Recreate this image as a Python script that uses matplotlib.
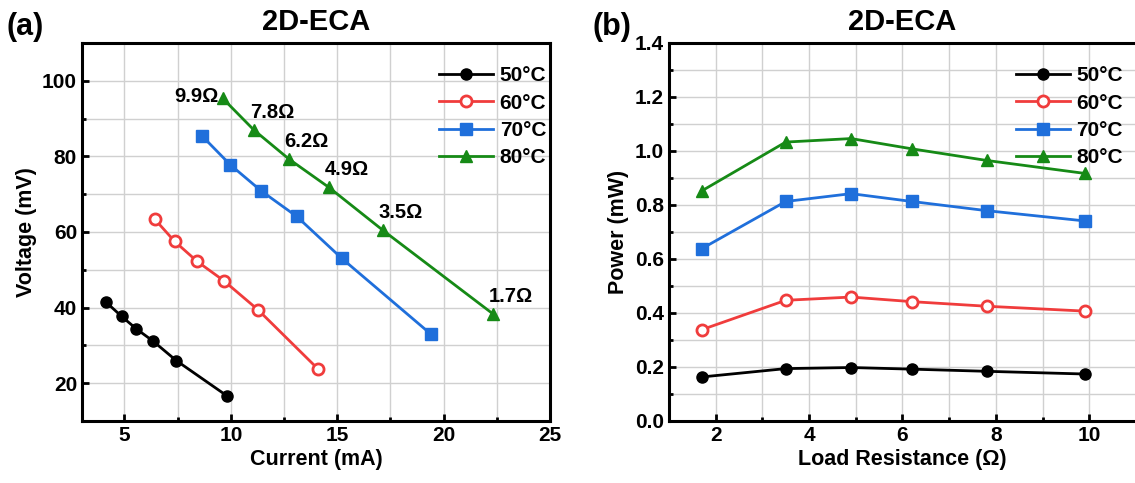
import numpy as np
import matplotlib
matplotlib.use("Agg")
import matplotlib.pyplot as plt
from matplotlib.ticker import MultipleLocator

plt.rcParams["font.family"] = ["Liberation Sans", "DejaVu Sans"]
plt.rcParams["font.weight"] = "bold"

temps = ["50°C", "60°C", "70°C", "80°C"]
colors = ["black", "#f03c3c", "#1f6fdb", "#168a16"]
markers = ["o", "o", "s", "^"]
filled = [True, False, True, True]

# panel (a): current (mA) and voltage (mV), from 9.9 ohm down to 1.7 ohm
current = [
    [4.14, 4.86, 5.55, 6.35, 7.43, 9.83],
    [6.42, 7.36, 8.42, 9.67, 11.28, 14.09],
    [8.63, 9.97, 11.42, 13.10, 15.22, 19.42],
    [9.61, 11.08, 12.73, 14.61, 17.16, 22.33],
]
voltage = [
    [41.4, 37.7, 34.4, 31.1, 26.0, 16.6],
    [63.4, 57.5, 52.2, 47.1, 39.4, 23.8],
    [85.5, 77.8, 70.9, 64.1, 53.0, 32.9],
    [95.4, 87.0, 79.3, 71.8, 60.4, 38.3],
]
res_labels = ["9.9Ω", "7.8Ω", "6.2Ω", "4.9Ω", "3.5Ω", "1.7Ω"]

# panel (b): load resistance and power
resistance = [1.7, 3.5, 4.9, 6.2, 7.8, 9.9]
power = [
    [0.163, 0.194, 0.198, 0.192, 0.184, 0.174],
    [0.338, 0.447, 0.459, 0.442, 0.425, 0.407],
    [0.638, 0.813, 0.842, 0.813, 0.779, 0.741],
    [0.852, 1.033, 1.046, 1.008, 0.965, 0.917],
]

fig = plt.figure(figsize=(11.35, 4.83), dpi=100)
ax1 = fig.add_axes([0.0722, 0.1284, 0.4123, 0.7826])
ax2 = fig.add_axes([0.5894, 0.1284, 0.4115, 0.7826])


def draw(ax, xs, ys, anchor):
    for x, y, c, m, f, t in zip(xs, ys, colors, markers, filled, temps):
        ax.plot(x, y, color=c, marker=m, markersize=8, linewidth=2,
                markerfacecolor=c if f else "white", markeredgecolor=c,
                markeredgewidth=2 if not f else 1, label=t)
    ax.legend(loc="upper right", bbox_to_anchor=anchor, frameon=False,
              fontsize=15, handlelength=2.6, handletextpad=0.3,
              labelspacing=0.4, borderaxespad=0)
    ax.grid(True, which="both", color="#d0d0d0", linewidth=1)
    ax.set_axisbelow(True)
    for s in ax.spines.values():
        s.set_linewidth(2.2)
    ax.tick_params(which="both", direction="in", width=2, labelsize=15)
    ax.tick_params(which="major", length=5)
    ax.tick_params(which="minor", length=3)
    for lab in ax.get_xticklabels() + ax.get_yticklabels():
        lab.set_fontweight("bold")
    ax.set_title("2D-ECA", fontsize=21, fontweight="bold", pad=9)


draw(ax1, current, voltage, (1.01, 0.96))
ax1.set_xlim(3, 25)
ax1.set_ylim(10, 110)
ax1.xaxis.set_major_locator(MultipleLocator(5))
ax1.xaxis.set_minor_locator(MultipleLocator(2.5))
ax1.yaxis.set_major_locator(MultipleLocator(20))
ax1.yaxis.set_minor_locator(MultipleLocator(10))
ax1.set_xlabel("Current (mA)", fontsize=15.5, fontweight="bold", labelpad=3)
ax1.set_ylabel("Voltage (mV)", fontsize=15.5, fontweight="bold")
for i, lab in enumerate(res_labels):
    x, y = current[3][i], voltage[3][i]
    if i == 0:
        ax1.annotate(lab, (x, y), xytext=(-3, 1), textcoords="offset points",
                     ha="right", va="center", fontsize=14.5, fontweight="bold")
    else:
        ax1.annotate(lab, (x, y), xytext=(-3, 6), textcoords="offset points",
                     ha="left", va="bottom", fontsize=14.5, fontweight="bold")

draw(ax2, [resistance] * 4, power, (0.99, 0.96))
ax2.set_xlim(1, 11)
ax2.set_ylim(0, 1.4)
ax2.xaxis.set_major_locator(MultipleLocator(2))
ax2.xaxis.set_minor_locator(MultipleLocator(1))
ax2.yaxis.set_major_locator(MultipleLocator(0.2))
ax2.yaxis.set_minor_locator(MultipleLocator(0.1))
ax2.yaxis.set_major_formatter(plt.FormatStrFormatter("%.1f"))
ax2.set_xlabel("Load Resistance (Ω)", fontsize=15.5, fontweight="bold", labelpad=3)
ax2.set_ylabel("Power (mW)", fontsize=15.5, fontweight="bold")

fig.text(0.006, 0.975, "(a)", fontsize=22, fontweight="bold", va="top")
fig.text(0.522, 0.975, "(b)", fontsize=22, fontweight="bold", va="top")

fig.savefig("out.png", dpi=100)
